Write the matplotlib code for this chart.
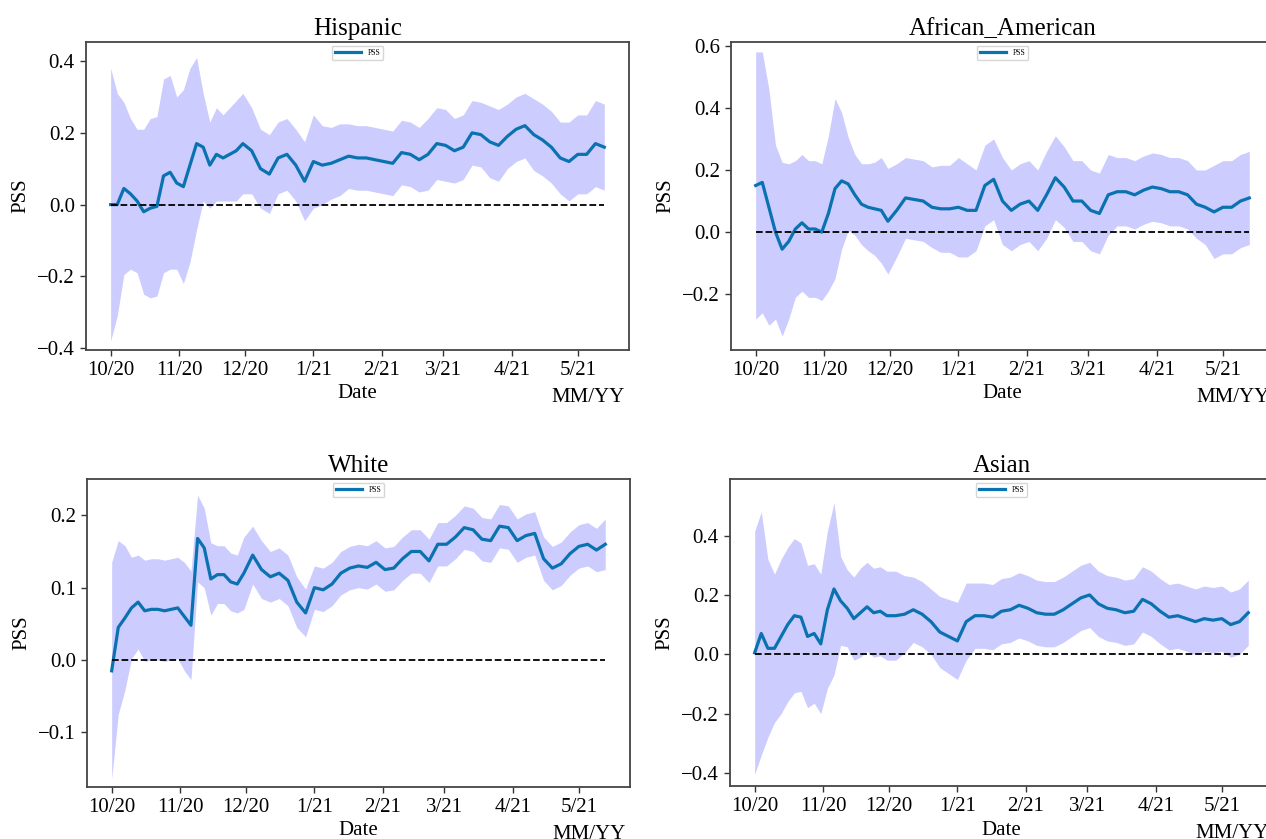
import numpy as np
import matplotlib.pyplot as plt

# days after 2020-10-01 at which values were read
days = [0, 3, 6, 9, 12, 15, 18, 21, 24, 27, 30, 33, 36, 39, 42, 45, 48, 51, 54, 57, 60,
        64, 68, 72, 76, 80, 84, 88, 92, 96, 100, 104, 108, 112, 116, 120, 124, 128,
        132, 136, 140, 144, 148, 152, 156, 160, 164, 168, 172, 176, 180, 184, 188,
        192, 196, 200, 204, 208, 212, 216, 220, 224]

tick_dates = ["2020-10-01", "2020-11-01", "2020-12-01", "2021-01-01",
              "2021-02-01", "2021-03-01", "2021-04-01", "2021-05-01"]
tick_labels = ["10/20", "11/20", "12/20", "1/21", "2/21", "3/21", "4/21", "5/21"]

groups = ["Hispanic", "African_American", "White", "Asian"]

hispanic_pss = [0.0, 0.0, 0.045, 0.03, 0.01, -0.02, -0.01, -0.005, 0.08, 0.09, 0.06,
                0.05, 0.11, 0.17, 0.16, 0.11, 0.14, 0.13, 0.14, 0.15, 0.17,
                0.15, 0.1, 0.085, 0.13, 0.14, 0.11, 0.065, 0.12, 0.11, 0.115, 0.125,
                0.135, 0.13, 0.13, 0.125, 0.12, 0.115, 0.145, 0.14, 0.125, 0.14, 0.17,
                0.165, 0.15, 0.16, 0.2, 0.195, 0.175, 0.165, 0.19, 0.21, 0.22, 0.195,
                0.18, 0.16, 0.13, 0.12, 0.14, 0.14, 0.17, 0.16]
hispanic_ci = [0.38, 0.31, 0.24, 0.21, 0.2, 0.23, 0.25, 0.25, 0.27, 0.27, 0.24,
               0.27, 0.27, 0.24, 0.15, 0.12, 0.13, 0.12, 0.13, 0.14, 0.14,
               0.12, 0.11, 0.11, 0.1, 0.1, 0.1, 0.11, 0.13, 0.11, 0.1, 0.1,
               0.09, 0.09, 0.09, 0.09, 0.09, 0.09, 0.09, 0.09, 0.09, 0.1, 0.1,
               0.1, 0.09, 0.09, 0.09, 0.09, 0.1, 0.1, 0.09, 0.09, 0.09, 0.1,
               0.1, 0.1, 0.1, 0.11, 0.11, 0.11, 0.12, 0.12]

african_american_pss = [0.15, 0.16, 0.08, 0.0, -0.055, -0.03, 0.01, 0.03, 0.01, 0.01,
                        0.0, 0.06, 0.14, 0.165, 0.155, 0.12, 0.09, 0.08, 0.075, 0.07,
                        0.035, 0.07, 0.11, 0.105, 0.1, 0.08, 0.075, 0.075, 0.08, 0.07,
                        0.07, 0.15, 0.17, 0.1, 0.07, 0.09, 0.1, 0.07, 0.12, 0.175,
                        0.145, 0.1, 0.1, 0.07, 0.06, 0.12, 0.13, 0.13, 0.12, 0.135,
                        0.145, 0.14, 0.13, 0.13, 0.12, 0.09, 0.08, 0.065, 0.08, 0.08,
                        0.1, 0.11]
african_american_ci = [0.43, 0.42, 0.38, 0.28, 0.28, 0.25, 0.22, 0.22, 0.22, 0.22,
                       0.22, 0.25, 0.29, 0.22, 0.15, 0.13, 0.13, 0.14, 0.15, 0.17,
                       0.17, 0.15, 0.13, 0.13, 0.13, 0.13, 0.14, 0.14, 0.16, 0.15,
                       0.13, 0.13, 0.13, 0.14, 0.13, 0.13, 0.13, 0.13, 0.14, 0.135,
                       0.13, 0.13, 0.13, 0.13, 0.13, 0.13, 0.11, 0.11, 0.11, 0.11,
                       0.11, 0.11, 0.11, 0.11, 0.11, 0.11, 0.12, 0.15, 0.15, 0.15,
                       0.15, 0.15]

white_pss = [-0.015, 0.045, 0.058, 0.072, 0.08, 0.068, 0.07, 0.07, 0.068, 0.07,
             0.072, 0.06, 0.048, 0.168, 0.155, 0.112, 0.118, 0.118, 0.108, 0.105,
             0.12, 0.145, 0.125, 0.115, 0.12, 0.11, 0.08, 0.065, 0.1, 0.097,
             0.105, 0.12, 0.127, 0.13, 0.128, 0.135, 0.125, 0.127, 0.14, 0.15,
             0.15, 0.137, 0.16, 0.16, 0.17, 0.183, 0.18, 0.167, 0.165, 0.185,
             0.183, 0.165, 0.172, 0.175, 0.14, 0.127, 0.133, 0.147, 0.157, 0.16,
             0.152, 0.16]
white_ci = [0.15, 0.12, 0.1, 0.07, 0.065, 0.07, 0.07, 0.07, 0.07, 0.07,
            0.07, 0.075, 0.075, 0.06, 0.055, 0.05, 0.04, 0.04, 0.04, 0.04,
            0.05, 0.04, 0.04, 0.035, 0.035, 0.035, 0.035, 0.033, 0.03, 0.03,
            0.03, 0.03, 0.03, 0.03, 0.03, 0.03, 0.03, 0.03, 0.03, 0.03,
            0.03, 0.03, 0.03, 0.03, 0.03, 0.03, 0.03, 0.03, 0.03, 0.03,
            0.03, 0.03, 0.03, 0.03, 0.03, 0.03, 0.03, 0.03, 0.03, 0.03,
            0.03, 0.035]

asian_pss = [0.005, 0.07, 0.02, 0.02, 0.06, 0.1, 0.13, 0.125, 0.06, 0.07, 0.035,
             0.15, 0.22, 0.18, 0.155, 0.12, 0.14, 0.16, 0.14, 0.145, 0.13,
             0.13, 0.135, 0.15, 0.135, 0.11, 0.075, 0.06, 0.045, 0.11, 0.13,
             0.13, 0.125, 0.145, 0.15, 0.165, 0.155, 0.14, 0.135, 0.135, 0.15,
             0.17, 0.19, 0.2, 0.17, 0.155, 0.15, 0.14, 0.145, 0.185, 0.17,
             0.145, 0.125, 0.13, 0.12, 0.11, 0.12, 0.115, 0.12, 0.1, 0.11, 0.14]
asian_ci = [0.41, 0.41, 0.3, 0.25, 0.26, 0.26, 0.26, 0.25, 0.24, 0.235, 0.235,
            0.265, 0.29, 0.15, 0.13, 0.14, 0.15, 0.15, 0.15, 0.15, 0.15,
            0.15, 0.13, 0.11, 0.11, 0.11, 0.12, 0.125, 0.13, 0.13, 0.11,
            0.11, 0.11, 0.11, 0.11, 0.11, 0.11, 0.11, 0.11, 0.11, 0.11,
            0.11, 0.11, 0.11, 0.11, 0.11, 0.11, 0.11, 0.11, 0.11, 0.11,
            0.11, 0.11, 0.11, 0.11, 0.11, 0.11, 0.11, 0.11, 0.11, 0.11, 0.11]

series = {
    "Hispanic": (hispanic_pss, hispanic_ci),
    "African_American": (african_american_pss, african_american_ci),
    "White": (white_pss, white_ci),
    "Asian": (asian_pss, asian_ci),
}

y_limits = {
    "Hispanic": (-0.404, 0.454),
    "African_American": (-0.378, 0.613),
    "White": (-0.175, 0.25),
    "Asian": (-0.445, 0.591),
}

# axes rectangles in figure fractions (the right column runs past the edge)
positions = {
    "Hispanic": [0.0679, 0.5834, 0.4289, 0.3669],
    "African_American": [0.5774, 0.5834, 0.4289, 0.3669],
    "White": [0.0687, 0.0625, 0.4289, 0.3664],
    "Asian": [0.5766, 0.0628, 0.4289, 0.3664],
}

plt.rcParams["font.family"] = ["Liberation Serif", "DejaVu Serif"]

dates = np.datetime64("2020-10-01") + np.array(days, dtype="timedelta64[D]")
ticks = np.array(tick_dates, dtype="datetime64[D]")

fig = plt.figure(figsize=(12.66, 8.39), dpi=100)

for name in groups:
    pss, ci = series[name]
    pss = np.array(pss)
    ci = np.array(ci)
    ax = fig.add_axes(positions[name])

    ax.fill_between(dates, pss - ci, pss + ci, color="blue", alpha=0.2,
                    linewidth=0)
    ax.plot(dates, pss, color="#0a72b0", linewidth=2.3, label="PSS")
    ax.hlines(0, dates[0], dates[-1], colors="black", linestyles="--",
              linewidth=1.3)

    ax.set_ylim(*y_limits[name])
    ax.set_xticks(ticks)
    ax.set_xticklabels(tick_labels)
    ax.tick_params(labelsize=15, length=4, width=1, pad=4, color="#333333")
    ax.set_title(name, fontsize=18, pad=5)
    ax.set_xlabel("Date", fontsize=15, labelpad=3)
    ax.set_ylabel("PSS", fontsize=15, labelpad=5)
    ax.text(0.992, -0.155, "MM/YY", transform=ax.transAxes, ha="right",
            va="center", fontsize=15)
    for side in ["top", "right", "bottom", "left"]:
        ax.spines[side].set_color("#444444")
        ax.spines[side].set_linewidth(1.3)

    ax.legend(loc="upper center", fontsize=5.5, handlelength=3.5,
              borderaxespad=0.5)

fig.savefig("out.png", dpi=100)
